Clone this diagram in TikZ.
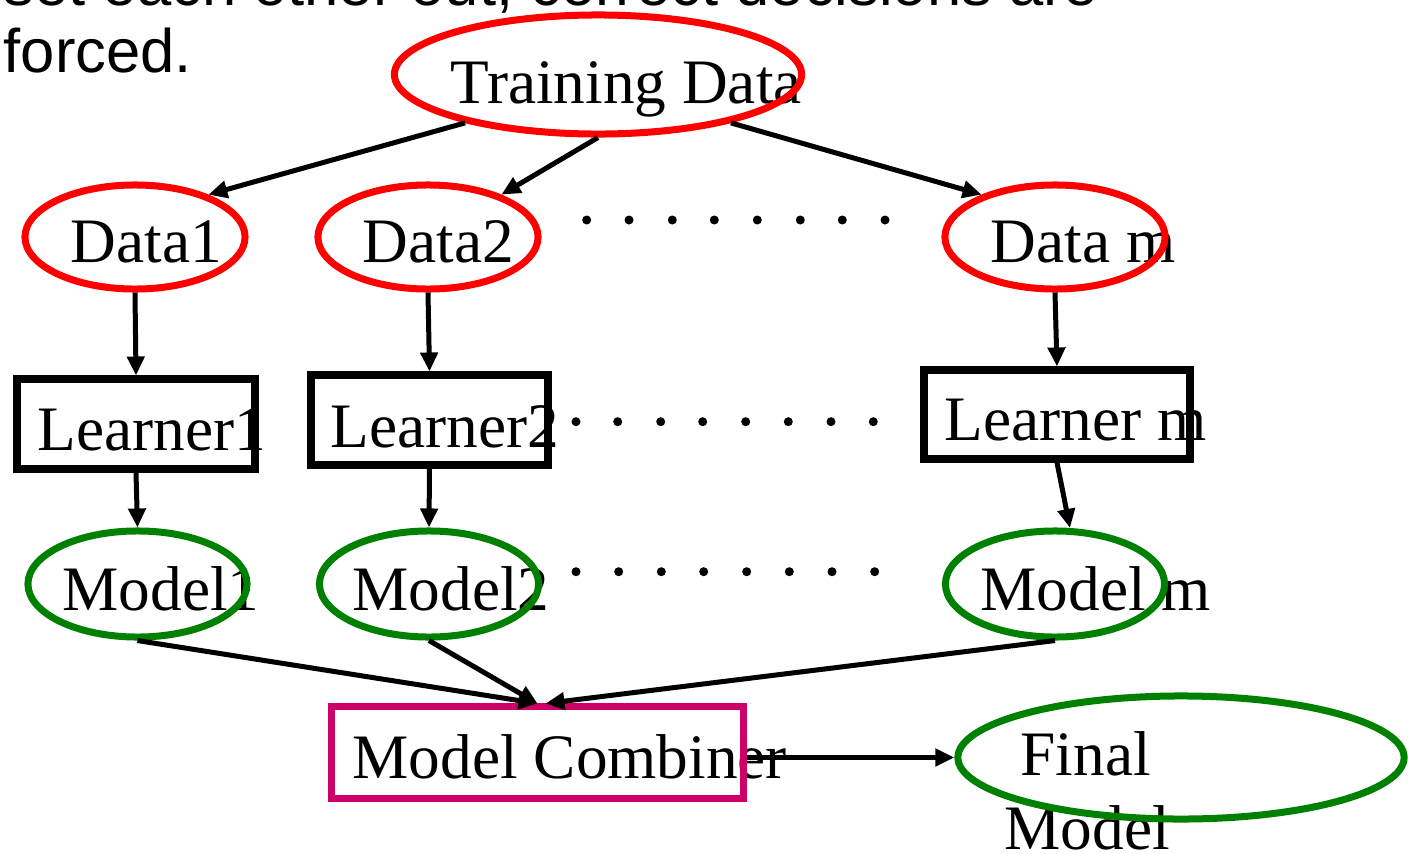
\documentclass[tikz,border=0pt]{standalone}
\usepackage{fontspec}
\setmainfont{Liberation Serif}
\newfontfamily\slidefont{Liberation Sans}
\usetikzlibrary{arrows.meta,shapes.geometric}
\definecolor{ovalred}{rgb}{1, 0, 0}
\definecolor{modelgreen}{rgb}{0, 0.5, 0}
\definecolor{combpink}{rgb}{0.8, 0, 0.4}

\begin{document}
\begin{tikzpicture}[x=0.01cm, y=-0.01cm,
        txt/.style={anchor=base west, inner sep=0, font=\fontsize{18}{20}\selectfont},
        slidetxt/.style={anchor=base west, inner sep=0, font=\slidefont\fontsize{17.5}{19}\selectfont},
        dataoval/.style={draw=ovalred, line width=0.07cm, ellipse, inner sep=0, minimum width=2.2cm, minimum height=1.04cm},
        modeloval/.style={draw=modelgreen, line width=0.07cm, ellipse, inner sep=0, minimum width=2.19cm, minimum height=1.06cm},
        learnbox/.style={draw=black, line width=0.08cm, rectangle, inner sep=0, minimum width=2.37cm, minimum height=0.89cm},
        arr/.style={-{Triangle[length=0.19cm, width=0.17cm]}, line width=0.05cm}]

    \useasboundingbox (0, 0) rectangle (1408, 854);

    % slide text, cut at the top
    \node[slidetxt] (line1) at (3, 5) {set each other out, correct decisions are};
    \node[slidetxt] (line2) at (3, 72) {forced.};

    % labels
    \node[txt] (tdtxt) at (450, 103) {Training Data};
    \node[txt] (d1txt) at (70, 262) {Data1};
    \node[txt] (d2txt) at (362, 262) {Data2};
    \node[txt] (dmtxt) at (990, 262) {Data m};
    \node[txt] (l1txt) at (37, 450) {Learner1};
    \node[txt] (l2txt) at (330, 447) {Learner2};
    \node[txt] (lmtxt) at (944, 440) {Learner m};
    \node[txt] (m1txt) at (62, 610) {Model1};
    \node[txt] (m2txt) at (352, 610) {Model2};
    \node[txt] (mmtxt) at (980, 610) {Model m};
    \node[txt] (combtxt) at (352, 778) {Model Combiner};
    \node[txt] (fmtxt1) at (1020, 775) {Final};
    \node[txt] (fmtxt2) at (1004, 849) {Model};

    % shapes
    \node[dataoval, minimum width=4.07cm, minimum height=1.19cm] (td) at (598, 74.5) {};
    \node[dataoval] (d1) at (135, 237) {};
    \node[dataoval] (d2) at (428, 237) {};
    \node[dataoval] (dm) at (1055, 237) {};

    \node[learnbox] (l1) at (136, 424) {};
    \node[learnbox] (l2) at (429.5, 420) {};
    \node[learnbox, minimum width=2.65cm, minimum height=0.88cm] (lm) at (1057, 414.5) {};

    \node[modeloval] (m1) at (137.5, 584) {};
    \node[modeloval] (m2) at (429, 584) {};
    \node[modeloval] (mm) at (1055, 584) {};

    \node[draw=combpink, line width=0.07cm, rectangle, inner sep=0, minimum width=4.11cm, minimum height=0.91cm] (comb) at (537.5, 752.5) {};
    \node[modeloval, minimum width=4.46cm, minimum height=1.23cm] (fm) at (1181, 757.5) {};

    % dots
    \fill (586.7, 220) circle (0.045cm) (629, 220) circle (0.045cm) (672.3, 220) circle (0.045cm) (714.3, 220) circle (0.045cm)
          (757.3, 220) circle (0.045cm) (800.3, 220) circle (0.045cm) (842.3, 220) circle (0.045cm) (885, 220) circle (0.045cm);
    \fill (576, 421.7) circle (0.045cm) (617.7, 421.7) circle (0.045cm) (660.7, 421.7) circle (0.045cm) (702.7, 421.7) circle (0.045cm)
          (745.7, 421.7) circle (0.045cm) (788.3, 421.7) circle (0.045cm) (831, 421.7) circle (0.045cm) (873.3, 421.7) circle (0.045cm);
    \fill (576, 571.7) circle (0.045cm) (618.7, 571.7) circle (0.045cm) (661.3, 571.7) circle (0.045cm) (703.7, 571.7) circle (0.045cm)
          (746.7, 571.7) circle (0.045cm) (789.3, 571.7) circle (0.045cm) (832, 571.7) circle (0.045cm) (874.7, 571.7) circle (0.045cm);

    % arrows
    \draw[arr] (td.200) -- (d1.30);
    \draw[arr] (td.south) -- (d2.30);
    \draw[arr] (td.340) -- (dm.150);

    \draw[arr] (d1.south) -- (l1.north);
    \draw[arr] (d2.south) -- (l2.north);
    \draw[arr] (dm.south) -- (lm.north);

    \draw[arr] (l1.south) -- (m1.north);
    \draw[arr] (l2.south) -- (m2.north);
    \draw[arr] (lm.south) -- (mm.75);

    \draw[arr] (m1.south) -- (comb.north);
    \draw[arr] (m2.south) -- (comb.north);
    \draw[arr] (mm.south) -- ([xshift=0.08cm]comb.north);

    \draw[arr] (comb.east |- fm.west) -- (fm.west);

\end{tikzpicture}
\end{document}
